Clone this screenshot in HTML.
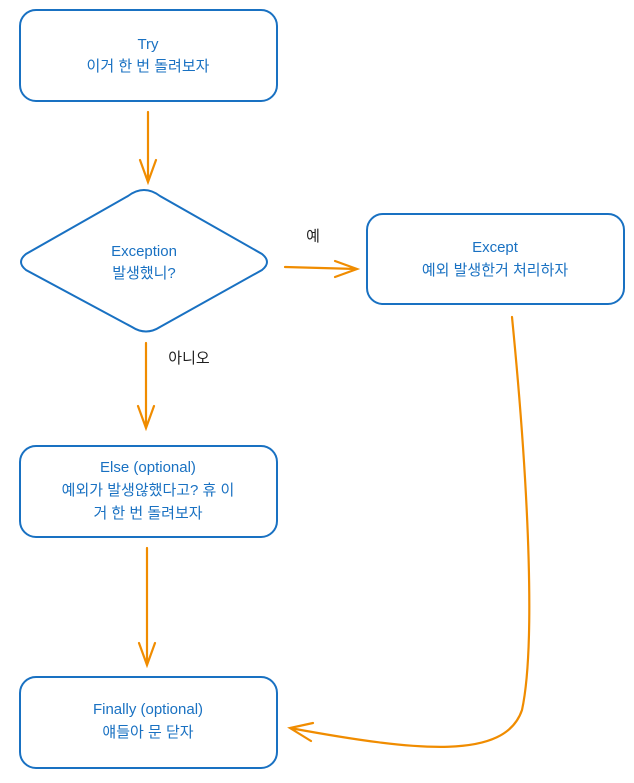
<!DOCTYPE html>
<html><head><meta charset="utf-8"><style>
body{margin:0;background:#fff;width:634px;height:778px;overflow:hidden}
svg text{font-family:"Liberation Sans","Noto Sans CJK KR",sans-serif;font-size:15px;fill:#1971c2;text-anchor:middle}
</style></head><body>
<svg width="634" height="778" viewBox="0 0 634 778" xmlns="http://www.w3.org/2000/svg">
<g fill="none" stroke="#1971c2" stroke-width="2">
<rect x="20" y="10" width="257" height="91" rx="16"/>
<path d="M144,190 Q152,190 160,196 L262,254 Q272,262 262,270 L160,327 Q146,336 132,327 L26,270 Q16,262 26,254 L128,196 Q136,190 144,190 Z"/>
<rect x="367" y="214" width="257" height="90" rx="16"/>
<rect x="20" y="446" width="257" height="91" rx="16"/>
<rect x="20" y="677" width="257" height="91" rx="16"/>
</g>
<g fill="none" stroke="#f08c00" stroke-width="2.2" stroke-linecap="round">
<path d="M148,112 L148,182 M140,160 L148,182 L156,160"/>
<path d="M285,267 L357,269 M335,261 L357,269 L335,277"/>
<path d="M146,343 L146,428 M138,406 L146,428 L154,406"/>
<path d="M147,548 L147,665 M139,643 L147,665 L155,643"/>
<path d="M512,317 C530,500 535,650 522,710 C505,760 420,752 290,728 M313,723 L290,728 L311,741"/>
</g>
<text x="148" y="49">Try</text>
<text x="148" y="71">이거 한 번 돌려보자</text>
<text x="144" y="256">Exception</text>
<text x="144" y="278">발생했니?</text>
<text x="495" y="252">Except</text>
<text x="495" y="275">예외 발생한거 처리하자</text>
<text x="148" y="472">Else (optional)</text>
<text x="148" y="495">예외가 발생않했다고? 휴 이</text>
<text x="148" y="518">거 한 번 돌려보자</text>
<text x="148" y="714">Finally (optional)</text>
<text x="148" y="737">얘들아 문 닫자</text>
<text x="313" y="241" style="fill:#1e1e1e">예</text>
<text x="189" y="363" style="fill:#1e1e1e">아니오</text>
</svg>
</body></html>
